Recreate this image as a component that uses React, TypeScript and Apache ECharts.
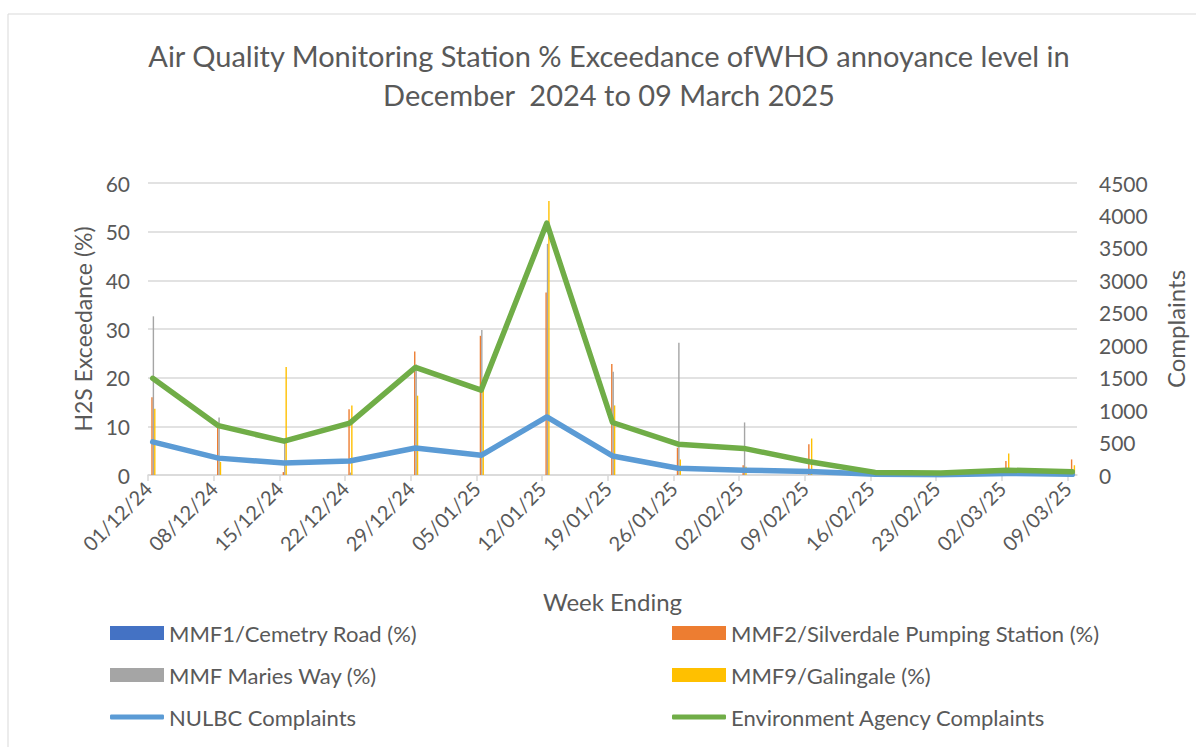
import React, { useEffect, useRef } from "react";
import * as echarts from "echarts";

const weeks = [
  "01/12/24", "08/12/24", "15/12/24", "22/12/24", "29/12/24", "05/01/25", "12/01/25", "19/01/25",
  "26/01/25", "02/02/25", "09/02/25", "16/02/25", "23/02/25", "02/03/25", "09/03/25",
];
const mmf1 = [0, 0, 0, 0, 0, 0, 0, 0, 0, 0, 0, 0, 0, 0, 0];
const mmf2 = [16.0, 9.9, 0.6, 13.5, 25.4, 28.6, 37.5, 22.8, 5.6, 2.0, 6.3, 0, 0, 2.9, 3.2];
const mariesWay = [32.6, 11.8, 7.0, 0.5, 22.7, 29.8, 47.5, 21.2, 27.2, 10.8, 1.0, 0, 0, 0.5, 0.5];
const mmf9 = [13.6, 2.7, 22.2, 14.3, 16.3, 20.0, 56.3, 14.3, 3.2, 1.7, 7.5, 0, 0, 4.4, 2.0];
const nulbc = [510, 260, 185, 216, 417, 304, 895, 293, 105, 73, 55, 10, 5, 25, 10];
const envAgency = [1490, 760, 522, 800, 1658, 1308, 3882, 809, 475, 410, 205, 40, 30, 75, 50];

const leftTicks = { min: 0, max: 60, interval: 10 };
const rightTicks = { min: 0, max: 4500, interval: 500 };

const FONT = "Lato";
const GREY = "#595959";

export default function App() {
  const ref = useRef<HTMLDivElement>(null);
  useEffect(() => {
    if (!ref.current) return;
    const chart = echarts.init(ref.current, null, { renderer: "svg" });
    // each week is 7 days; points sit at the centre of the week-ending day
    const pos = (i: number) => i + 0.5 / 7;
    const toPairs = (arr: number[]) => arr.map((v, i) => [pos(i), v]);
    const barNames = [
      "MMF1/Cemetry Road (%)",
      "MMF2/Silverdale Pumping Station (%)",
      "MMF Maries Way (%)",
      "MMF9/Galingale (%)",
    ];
    const barData = [mmf1, mmf2, mariesWay, mmf9];
    const barColors = ["#4472C4", "#ED7D31", "#A5A5A5", "#FFC000"];
    const lineNames = ["NULBC Complaints", "Environment Agency Complaints"];
    const lineData = [nulbc, envAgency];
    const lineColors = ["#5B9BD5", "#70AD47"];

    const legendPos = [
      { left: 110, top: 622, name: barNames[0], icon: "rect", h: 14 },
      { left: 672, top: 622, name: barNames[1], icon: "rect", h: 14 },
      { left: 110, top: 664, name: barNames[2], icon: "rect", h: 14 },
      { left: 672, top: 664, name: barNames[3], icon: "rect", h: 14 },
      { left: 110, top: 706, name: lineNames[0], icon: "roundRect", h: 5 },
      { left: 672, top: 706, name: lineNames[1], icon: "roundRect", h: 5 },
    ];

    const ticks = weeks.map((_, i) => i);

    chart.setOption({
      animation: false,
      textStyle: { fontFamily: FONT },
      title: {
        text: "Air Quality Monitoring Station % Exceedance ofWHO annoyance level in\nDecember  2024 to 09 March 2025",
        left: 604,
        textAlign: "center",
        top: 31,
        textStyle: { fontFamily: FONT, fontSize: 29, fontWeight: "normal", color: GREY, lineHeight: 39 },
      },
      graphic: [
        {
          type: "rect",
          shape: { x: 8, y: 14, width: 1200, height: 740 },
          style: { fill: "none", stroke: "#d9d9d9", lineWidth: 1 },
          silent: true,
        },
      ],
      legend: legendPos.map((l) => ({
        data: [{ name: l.name, icon: l.icon }],
        left: l.left,
        top: l.top,
        itemWidth: 54,
        itemHeight: l.h,
        itemGap: 5,
        textStyle: { fontFamily: FONT, fontSize: 22, color: GREY, padding: [0, 0, 0, 0] },
        padding: 0,
      })),
      grid: { left: 148, right: 119, top: 183, bottom: 272, containLabel: false },
      xAxis: {
        type: "value",
        min: 0,
        max: 14 + 1 / 7,
        interval: 1,
        name: "Week Ending",
        nameLocation: "middle",
        nameGap: 114,
        nameTextStyle: { fontFamily: FONT, fontSize: 24, color: GREY },
        axisLine: { show: true, lineStyle: { color: "#d9d9d9", width: 1.5 } },
        axisTick: { show: true, length: 6, lineStyle: { color: "#d9d9d9", width: 1.5 }, customValues: ticks },
        splitLine: { show: false },
        axisLabel: {
          customValues: ticks,
          rotate: 45,
          fontFamily: FONT,
          fontSize: 20,
          color: GREY,
          margin: 10,
          formatter: (v: number) => {
            const i = Math.round(v);
            return Math.abs(v - i) < 1e-6 && weeks[i] ? weeks[i] : "";
          },
        },
      },
      yAxis: [
        {
          type: "value",
          ...leftTicks,
          name: "H2S Exceedance (%)",
          nameLocation: "middle",
          nameGap: 52,
          nameTextStyle: { fontFamily: FONT, fontSize: 23, color: GREY },
          axisLine: { show: false },
          axisTick: { show: false },
          axisLabel: { fontFamily: FONT, fontSize: 21, color: GREY, margin: 18 },
          splitLine: { show: true, lineStyle: { color: "#d9d9d9", width: 1.5 } },
        },
        {
          type: "value",
          ...rightTicks,
          name: "Complaints",
          nameLocation: "middle",
          nameGap: 86,
          nameRotate: 90,
          nameTextStyle: { fontFamily: FONT, fontSize: 24, color: GREY },
          axisLine: { show: false },
          axisTick: { show: false },
          axisLabel: {
            fontFamily: FONT,
            fontSize: 21,
            color: GREY,
            margin: 22,
            formatter: (v: number) => String(v),
          },
          splitLine: { show: false },
        },
      ],
      series: [
        ...barNames.map((name, k) => ({
          name,
          type: "bar",
          yAxisIndex: 0,
          data: toPairs(barData[k]),
          barWidth: 1.4,
          barGap: "0%",
          itemStyle: { color: barColors[k] },
        })),
        ...lineNames.map((name, k) => ({
          name,
          type: "line",
          yAxisIndex: 1,
          data: toPairs(lineData[k]),
          symbol: "none",
          lineStyle: { color: lineColors[k], width: 5.5, cap: "round", join: "round" },
          itemStyle: { color: lineColors[k] },
          z: 3 + k,
        })),
      ],
    });
    return () => chart.dispose();
  }, []);
  return (
    <div
      ref={ref}
      style={{ position: "fixed", left: 0, top: 0, width: 1196, height: 747, background: "#fff" }}
    />
  );
}
